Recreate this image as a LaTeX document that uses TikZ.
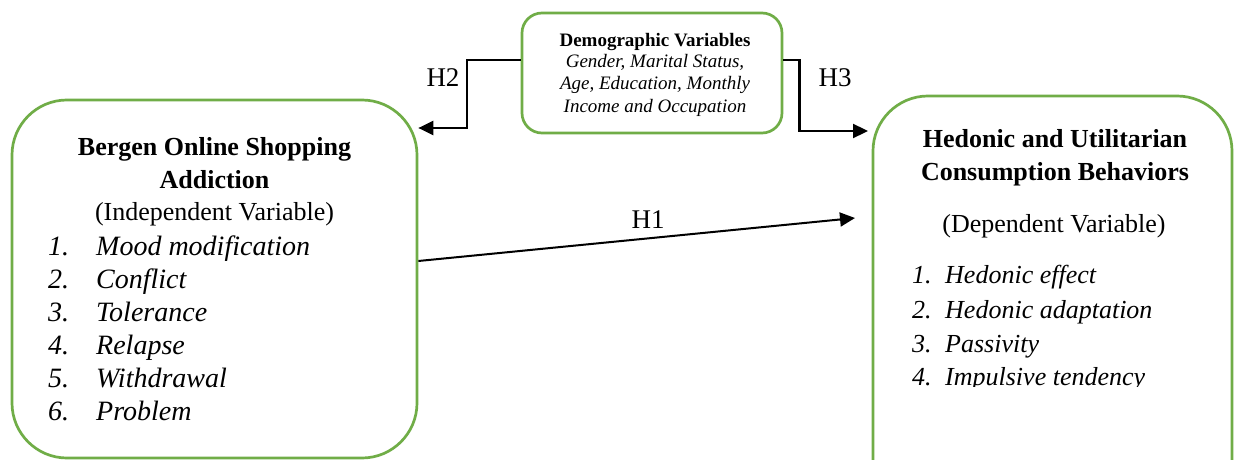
\documentclass[tikz,border=0pt]{standalone}
\usepackage{fontspec}
\setmainfont{Liberation Serif}
\usetikzlibrary{arrows.meta}
\definecolor{boxgreen}{RGB}{112,173,71}
\begin{document}
\begin{tikzpicture}[x=1pt,y=-1pt,
  box/.style={draw=boxgreen,line width=2.7pt,rectangle,inner sep=0pt},
  arr/.style={line width=2.3pt,-{Triangle[length=15pt,width=14pt]}},
  txt/.style={inner sep=0pt,anchor=base},
  lft/.style={inner sep=0pt,anchor=base west},
  ttl/.style={txt,font=\fontsize{26}{31}\selectfont\bfseries},
  sub/.style={txt,font=\fontsize{26}{31}\selectfont},
  litem/.style={lft,font=\fontsize{28}{33}\selectfont\itshape},
  ritem/.style={lft,font=\fontsize{26}{31}\selectfont\itshape},
  dtitle/.style={txt,font=\fontsize{19}{21}\selectfont\bfseries},
  ditem/.style={txt,font=\fontsize{19}{21}\selectfont\itshape},
  hlab/.style={txt,font=\fontsize{27}{31}\selectfont}
]
\useasboundingbox (0,0) rectangle (1235,460);
\fill[white] (0,0) rectangle (1235,460);

% boxes
\node[box,rounded corners=55pt,minimum width=405pt,minimum height=358pt] (left) at (214.5,279) {};
\node[box,rounded corners=55pt,minimum width=359pt,minimum height=424pt] (right) at (1052.5,308) {};
\node[box,rounded corners=20pt,minimum width=260pt,minimum height=120pt] (demo) at (652,73) {};

% demographic text
\node[dtitle] (d1) at (655,47) {Demographic Variables};
\node[ditem] (d2) at (655,68) {Gender, Marital Status,};
\node[ditem] (d3) at (655,90) {Age, Education, Monthly};
\node[ditem] (d4) at (655,112) {Income and Occupation};

% left box text
\node[ttl] (lt1) at (214.5,155) {Bergen Online Shopping};
\node[ttl] (lt2) at (214.5,188) {Addiction};
\node[sub] (lt3) at (214.5,220) {(Independent Variable)};
\node[litem] (ln1) at (48,255) {1.};
\node[litem] (li1) at (96,255) {Mood modification};
\node[litem] (ln2) at (48,288) {2.};
\node[litem] (li2) at (96,288) {Conflict};
\node[litem] (ln3) at (48,321) {3.};
\node[litem] (li3) at (96,321) {Tolerance};
\node[litem] (ln4) at (48,354) {4.};
\node[litem] (li4) at (96,354) {Relapse};
\node[litem] (ln5) at (48,387) {5.};
\node[litem] (li5) at (96,387) {Withdrawal};
\node[litem] (ln6) at (48,420) {6.};
\node[litem] (li6) at (96,420) {Problem};

% right box text
\node[ttl] (rt1) at (1055,147) {Hedonic and Utilitarian};
\node[ttl] (rt2) at (1055,180) {Consumption Behaviors};
\node[sub] (rt3) at (1054,232) {(Dependent Variable)};
\node[ritem] (rn1) at (912,283) {1.};
\node[ritem] (ri1) at (945,283) {Hedonic effect};
\node[ritem] (rn2) at (912,318) {2.};
\node[ritem] (ri2) at (945,318) {Hedonic adaptation};
\node[ritem] (rn3) at (912,352) {3.};
\node[ritem] (ri3) at (945,352) {Passivity};
\begin{scope}
\clip (880,300) rectangle (1220,386.5);
\node[ritem] (rn4) at (912,385) {4.};
\node[ritem] (ri4) at (945,385) {Impulsive tendency};
\end{scope}

% connectors
\coordinate (h1end) at (855,218);
\coordinate (h3end) at (868,131);
\draw[arr,line width=2pt] ([yshift=18pt]left.east) -- (h1end);
\draw[arr] ([yshift=13pt]demo.west) -- ++(-54,0) |- ([yshift=151pt]left.east);
\draw[arr] ([yshift=13pt]demo.east) -- ++(16,0) |- (h3end);

% labels
\node[hlab] (h1) at (648,228) {H1};
\node[hlab] (h2) at (443,87) {H2};
\node[hlab] (h3) at (835,87) {H3};
\end{tikzpicture}
\end{document}
